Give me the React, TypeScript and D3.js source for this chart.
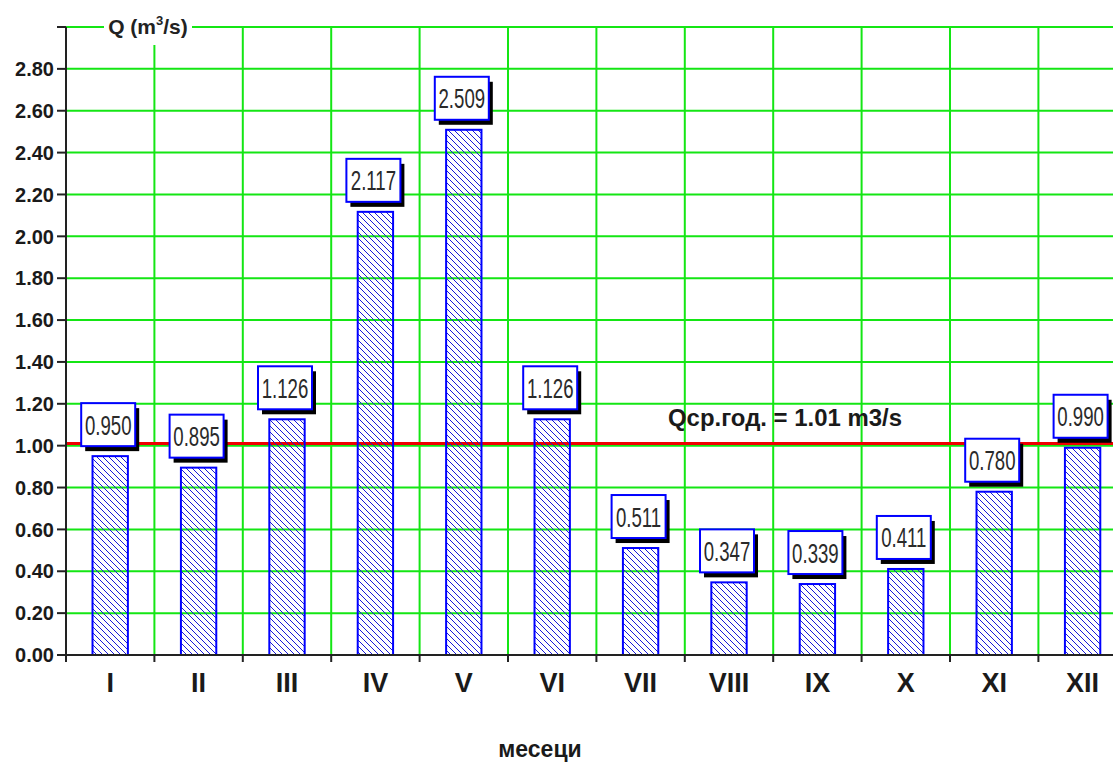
import React from "react";
import * as d3 from "d3";

const months = ["I", "II", "III", "IV", "V", "VI", "VII", "VIII", "IX", "X", "XI", "XII"];
const flows = [0.95, 0.895, 1.126, 2.117, 2.509, 1.126, 0.511, 0.347, 0.339, 0.411, 0.78, 0.99];
const meanFlow = 1.01;
const meanLabel = "Qср.год. = 1.01 m3/s";
const xTitle = "месеци";
const yMax = 3.0;

const W = 1113;
const H = 763;
const left = 66;
const bottom = 655;
const top = 27;
const FONT = "'Liberation Sans', Arial, sans-serif";

export default function App() {
  const step = 88.4;
  const x = d3
    .scaleBand<string>()
    .domain(months)
    .range([left, left + step * months.length])
    .paddingInner(0.6)
    .paddingOuter(0.3);
  const y = d3.scaleLinear().domain([0, yMax]).range([bottom, top]);
  const yTicks = y.ticks(15);
  const fmtTick = d3.format(".2f");
  const fmtVal = d3.format(".3f");
  const s = x.step();
  const boundaries = d3.range(months.length + 1).map((i) => left + i * s);

  const green = "#14e614";
  const boxW = 54;
  const boxH = 43;

  return (
    <svg
      width={W}
      height={H}
      style={{ position: "absolute", left: 0, top: 0, background: "#fff" }}
      fontFamily={FONT}
    >
      <defs>
        <pattern id="hatch" patternUnits="userSpaceOnUse" width="6" height="6">
          <path d="M0,0 L6,6 M-1,5 L1,7 M5,-1 L7,1" stroke="#1a1ad8" strokeWidth="1" />
        </pattern>
      </defs>
      <rect x={0} y={0} width={W} height={H} fill="#fff" />

      {/* horizontal grid */}
      {yTicks
        .filter((t) => t > 0)
        .map((t) => (
          <line key={"h" + t} x1={left} x2={W} y1={y(t)} y2={y(t)} stroke={green} strokeWidth={2} />
        ))}
      {/* vertical grid */}
      {boundaries.slice(1).map((bx, i) => (
        <line key={"v" + i} x1={bx} x2={bx} y1={top} y2={bottom} stroke={green} strokeWidth={2} />
      ))}

      {/* Q label */}
      <rect x={104} y={14} width={88} height={31} fill="#fff" />
      <text x={148} y={34} textAnchor="middle" fontSize={21} fontWeight="bold" fill="#222">
        Q (m<tspan fontSize={13} dy={-9}>3</tspan>
        <tspan dy={9}>/s)</tspan>
      </text>

      {/* mean line */}
      <line x1={left} x2={W} y1={y(meanFlow)} y2={y(meanFlow)} stroke="#ee0000" strokeWidth={3} />
      <text x={668} y={426} fontSize={23} fontWeight="bold" fill="#1a1a1a" textLength={234} lengthAdjust="spacingAndGlyphs">
        {meanLabel}
      </text>

      {/* bars */}
      {months.map((m, i) => (
        <rect
          key={"b" + m}
          x={x(m)!}
          y={y(flows[i])}
          width={x.bandwidth()}
          height={bottom - y(flows[i])}
          fill="url(#hatch)"
          stroke="#0000ff"
          strokeWidth={2}
        />
      ))}

      {/* value labels */}
      {months.map((m, i) => {
        const cx = x(m)! + x.bandwidth() / 2 - 2;
        const by = y(flows[i]) - 10;
        const bx = cx - boxW / 2;
        const ty = by - boxH;
        return (
          <g key={"l" + m}>
            <rect x={bx + 4} y={ty + 5} width={boxW} height={boxH} fill="#000" />
            <rect x={bx} y={ty} width={boxW} height={boxH} fill="#fff" stroke="#0000ff" strokeWidth={2} />
            <text
              transform={`translate(${cx},${ty + boxH / 2 + 10}) scale(0.98,1.42)`}
              textAnchor="middle"
              fontSize={19}
              fill="#2a2a2a"
            >
              {fmtVal(flows[i])}
            </text>
          </g>
        );
      })}

      {/* y axis */}
      <line x1={left} x2={left} y1={top} y2={bottom + 5} stroke="#222" strokeWidth={2} />
      {yTicks.map((t) => (
        <g key={"yt" + t}>
          <line x1={57} x2={left} y1={y(t)} y2={y(t)} stroke="#222" strokeWidth={2} />
          {t < yMax - 1e-9 && (
            <text x={54} y={y(t)} dy="0.36em" textAnchor="end" fontSize={20} fontWeight="bold" fill="#1a1a1a">
              {fmtTick(t)}
            </text>
          )}
        </g>
      ))}

      {/* x axis */}
      <line x1={left - 5} x2={W} y1={bottom} y2={bottom} stroke="#222" strokeWidth={2} />
      {boundaries.map((bx, i) => (
        <line key={"xt" + i} x1={bx} x2={bx} y1={bottom} y2={bottom + 7} stroke="#222" strokeWidth={2} />
      ))}
      {months.map((m) => (
        <text
          key={"xl" + m}
          x={x(m)! + x.bandwidth() / 2}
          y={692}
          textAnchor="middle"
          fontSize={27}
          fontWeight="bold"
          fill="#1a1a1a"
        >
          {m}
        </text>
      ))}
      <text x={540} y={757} textAnchor="middle" fontSize={23} fontWeight="bold" fill="#1a1a1a">
        {xTitle}
      </text>
    </svg>
  );
}
